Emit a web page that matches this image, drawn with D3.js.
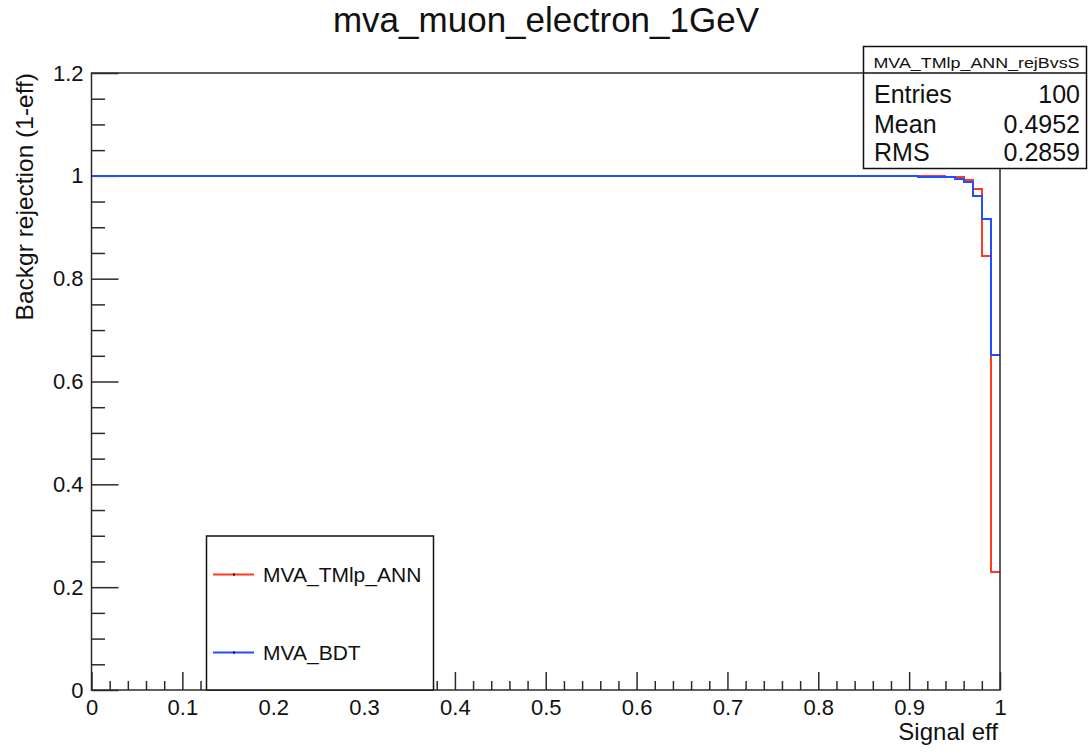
<!DOCTYPE html>
<html>
<head>
<meta charset="utf-8">
<script src="https://cdn.jsdelivr.net/npm/d3@7"></script>
<style>
  html, body { margin: 0; padding: 0; background: #fff; }
  svg { display: block; font-family: "Liberation Sans", Arial, Helvetica, sans-serif; }
</style>
</head>
<body>
<svg id="chart" width="1088" height="754"></svg>
<script>
// Background rejection vs signal efficiency, drawn as step histograms.
// Each series: bin edges (signal efficiency) and the rejection in each bin.
const annEdges  = [0, 0.94, 0.96, 0.97, 0.98, 0.99, 1.0];
const annValues = [1.0, 0.997, 0.991, 0.975, 0.844, 0.23];

const bdtEdges  = [0, 0.91, 0.95, 0.96, 0.97, 0.98, 0.99, 1.0];
const bdtValues = [1.0, 0.997, 0.993, 0.988, 0.960, 0.916, 0.651];

const seriesNames  = ["MVA_TMlp_ANN", "MVA_BDT"];
const seriesColors = ["#ff3a1e", "#1f4fff"];

const xTicks = [0, 0.1, 0.2, 0.3, 0.4, 0.5, 0.6, 0.7, 0.8, 0.9, 1];
const yTicks = [0, 0.2, 0.4, 0.6, 0.8, 1, 1.2];

const statsTitle  = "MVA_TMlp_ANN_rejBvsS";
const statsLabels = ["Entries", "Mean", "RMS"];
const statsValues = ["100", "0.4952", "0.2859"];

const svg = d3.select("#chart");
const frame = { left: 91.5, right: 1000, top: 73, bottom: 690 };

const x = d3.scaleLinear().domain([0, 1]).range([frame.left, frame.right]);
const y = d3.scaleLinear().domain([0, 1.2]).range([frame.bottom, frame.top]);

const axisColor = "#2b2b2b";

// Title
svg.append("text")
  .attr("x", 546).attr("y", 32)
  .attr("text-anchor", "middle")
  .attr("font-size", 35)
  .attr("fill", "#111")
  .text("mva_muon_electron_1GeV");

// Minor and major ticks (pointing inward, ROOT style)
const xMinor = d3.range(0, 1.0001, 0.02).filter(v => Math.abs(v * 10 - Math.round(v * 10)) > 1e-6);
const yMinor = d3.range(0, 1.2001, 0.05).filter(v => Math.abs(v * 5 - Math.round(v * 5)) > 1e-6);

const fmt = d3.format("~g");

svg.append("g").attr("transform", `translate(0,${frame.bottom})`)
  .call(d3.axisBottom(x).tickValues(xMinor).tickSize(-9).tickFormat(""));
svg.append("g").attr("transform", `translate(0,${frame.bottom})`)
  .call(d3.axisBottom(x).tickValues(xTicks).tickSize(-18).tickPadding(9).tickFormat(fmt));

svg.append("g").attr("transform", `translate(${frame.left},0)`)
  .call(d3.axisLeft(y).tickValues(yMinor).tickSize(-13.5).tickFormat(""));
svg.append("g").attr("transform", `translate(${frame.left},0)`)
  .call(d3.axisLeft(y).tickValues(yTicks).tickSize(-27).tickPadding(8).tickFormat(fmt));

svg.selectAll(".domain").remove();
svg.selectAll(".tick line").attr("stroke", axisColor).attr("stroke-width", 1.5);
svg.selectAll(".tick text")
  .attr("font-size", 22)
  .attr("font-family", "'Liberation Sans', Arial, Helvetica, sans-serif")
  .attr("fill", "#111");

// Axis titles
svg.append("text")
  .attr("x", 998).attr("y", 740)
  .attr("text-anchor", "end")
  .attr("font-size", 24)
  .attr("fill", "#111")
  .text("Signal eff");

svg.append("text")
  .attr("transform", `translate(33,${frame.top}) rotate(-90)`)
  .attr("text-anchor", "end")
  .attr("font-size", 24.5)
  .attr("fill", "#111")
  .text("Backgr rejection (1-eff)");

// Step curves
function stepPoints(edges, values) {
  const pts = [];
  values.forEach((v, i) => {
    pts.push([edges[i], v]);
    pts.push([edges[i + 1], v]);
  });
  return pts;
}
const line = d3.line().x(d => x(d[0])).y(d => y(d[1]));

const series = [
  { edges: annEdges, values: annValues },
  { edges: bdtEdges, values: bdtValues }
];
series.forEach((s, i) => {
  svg.append("path")
    .attr("d", line(stepPoints(s.edges, s.values)))
    .attr("fill", "none")
    .attr("stroke", seriesColors[i])
    .attr("stroke-width", 2)
    .attr("shape-rendering", "crispEdges");
});

// Frame
svg.append("rect")
  .attr("x", frame.left).attr("y", frame.top)
  .attr("width", frame.right - frame.left)
  .attr("height", frame.bottom - frame.top)
  .attr("fill", "none")
  .attr("stroke", axisColor)
  .attr("stroke-width", 1.5);

// Legend
const leg = svg.append("g");
leg.append("rect")
  .attr("x", 206.5).attr("y", 536)
  .attr("width", 227).attr("height", 154)
  .attr("fill", "#fff")
  .attr("stroke", "#111")
  .attr("stroke-width", 1.5);
const legRows = [574.5, 652.5];
seriesNames.forEach((name, i) => {
  const yy = legRows[i];
  leg.append("line")
    .attr("x1", 213).attr("x2", 254).attr("y1", yy).attr("y2", yy)
    .attr("stroke", seriesColors[i]).attr("stroke-width", 2);
  leg.append("rect")
    .attr("x", 233).attr("y", yy - 1).attr("width", 2).attr("height", 2)
    .attr("fill", "#000");
  leg.append("text")
    .attr("x", 263).attr("y", yy + 7.5)
    .attr("font-size", 21)
    .attr("fill", "#111")
    .text(name);
});

// Statistics box
const st = svg.append("g");
st.append("rect")
  .attr("x", 863.5).attr("y", 46.5)
  .attr("width", 223).attr("height", 122)
  .attr("fill", "#fff")
  .attr("stroke", "#111")
  .attr("stroke-width", 1.5);
st.append("line")
  .attr("x1", 863.5).attr("x2", 1086.5).attr("y1", 73).attr("y2", 73)
  .attr("stroke", "#111").attr("stroke-width", 1.5);
st.append("text")
  .attr("x", 873.5).attr("y", 68)
  .attr("font-size", 15)
  .attr("textLength", 206)
  .attr("lengthAdjust", "spacingAndGlyphs")
  .attr("fill", "#111")
  .text(statsTitle);
const statRows = [103, 132.5, 161];
statsLabels.forEach((lab, i) => {
  st.append("text")
    .attr("x", 874).attr("y", statRows[i])
    .attr("font-size", 25)
    .attr("fill", "#111")
    .text(lab);
  st.append("text")
    .attr("x", 1080).attr("y", statRows[i])
    .attr("text-anchor", "end")
    .attr("font-size", 25)
    .attr("fill", "#111")
    .text(statsValues[i]);
});
</script>
</body>
</html>
